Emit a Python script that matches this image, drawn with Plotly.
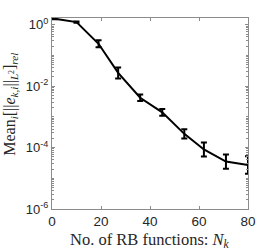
import plotly.graph_objects as go

n_rb = [1, 10, 19, 27, 36, 45, 54, 62, 71, 80]
mean_err = [1.58, 1.22, 0.24, 0.027, 0.0042, 0.0014, 2.8e-4, 8.7e-5, 3.5e-5, 2.7e-5]
err_upper = [0.08, 0.06, 0.072, 0.0138, 0.00118, 0.00039, 1.18e-4, 6.0e-5, 2.5e-5, 2.5e-5]
err_lower = [0.06, 0.05, 0.055, 0.0091, 0.00092, 0.00031, 8.3e-5, 3.55e-5, 1.46e-5, 1.3e-5]

x_ticks = [0, 20, 40, 60, 80]
y_tickvals = [1e-6, 1e-4, 1e-2, 1e0]
y_ticktext = ["10<sup>-6</sup>", "10<sup>-4</sup>", "10<sup>-2</sup>", "10<sup>0</sup>"]

x_title = "No. of RB functions: <i>N<sub>k</sub></i>"
y_title = "Mean<sub><i>i</i></sub>[||<i>e</i><sub><i>k,i</i></sub>||<sub><i>L</i><sup>2</sup></sub>]<sub><i>rel</i></sub>"

fig = go.Figure()
fig.add_trace(go.Scatter(
    x=n_rb, y=mean_err, mode="lines",
    line=dict(color="black", width=2),
    error_y=dict(type="data", symmetric=False, array=err_upper, arrayminus=err_lower,
                 color="black", thickness=2, width=3),
    showlegend=False, hoverinfo="skip",
))

axis_col = "#8c8c8c"
txt_col = "#262626"
serif = "Liberation Serif, Times New Roman, serif"
sans = "Liberation Sans, Arial, sans-serif"

fig.update_layout(
    width=274, height=249,
    margin=dict(l=52, r=26, t=18, b=40),
    paper_bgcolor="white", plot_bgcolor="white",
    font=dict(family=sans, color=txt_col),
)
fig.update_xaxes(
    range=[0, 80], tickvals=x_ticks, ticks="inside", ticklen=3, tickcolor=axis_col,
    showline=True, linecolor=axis_col, linewidth=1, mirror="ticks", showgrid=False, zeroline=False,
    tickfont=dict(size=13.5, family=sans, color=txt_col),
)
fig.update_yaxes(
    type="log", range=[-6, 0.22], tickvals=y_tickvals, ticktext=y_ticktext,
    ticks="inside", ticklen=3, tickcolor=axis_col,
    minor=dict(ticks="inside", ticklen=2, tickcolor=axis_col, dtick="D1"),
    showline=True, linecolor=axis_col, linewidth=1, mirror="ticks", showgrid=False, zeroline=False,
    tickfont=dict(size=13, family=sans, color=txt_col),
)
fig.add_annotation(text=x_title, xref="paper", yref="paper", x=0.5, y=-0.16,
                   xanchor="center", yanchor="middle", showarrow=False,
                   font=dict(family=serif, size=16.5, color=txt_col))
fig.add_annotation(text=y_title, xref="paper", yref="paper", x=-0.21, y=0.55,
                   xanchor="center", yanchor="middle", showarrow=False, textangle=-90,
                   font=dict(family=serif, size=16, color=txt_col))

fig.write_html("out.html", config={"displayModeBar": False},
               post_script="document.body.style.margin='0';")
